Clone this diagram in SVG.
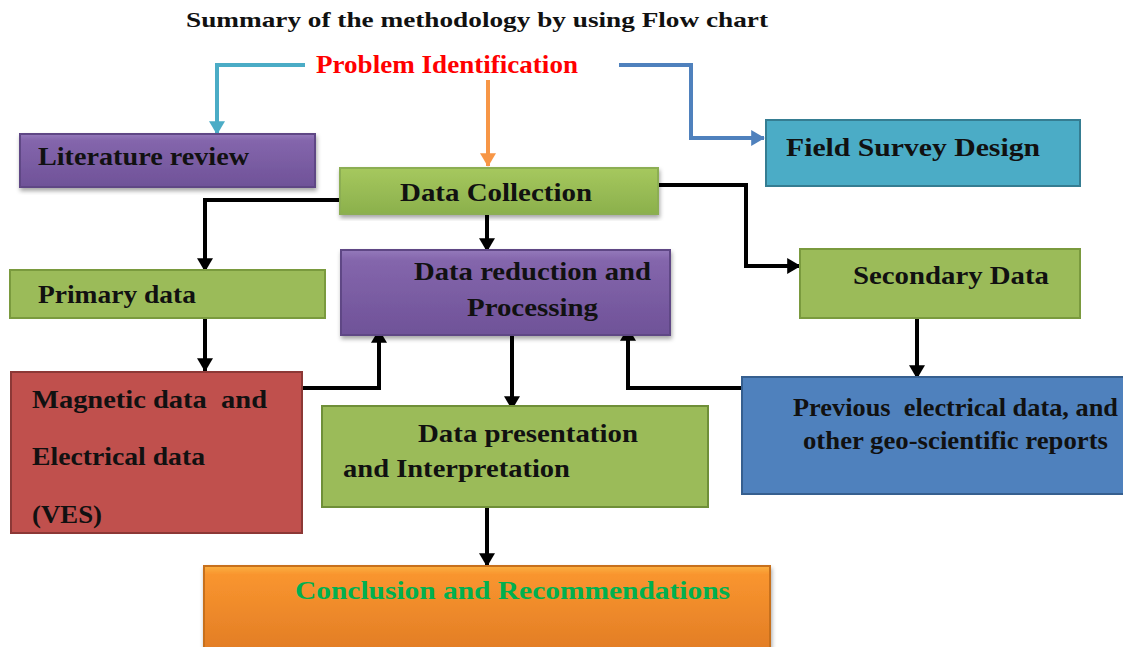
<svg xmlns="http://www.w3.org/2000/svg" width="1123" height="647" viewBox="0 0 1123 647">
  <defs>
    <style>
      text { font-family: "Liberation Serif", "Times New Roman", serif; font-weight: bold; fill: #111; white-space: pre; }
      .lbl { font-size: 25px; }
      .title { font-size: 21px; }
      .conn { fill: none; stroke-width: 4; stroke-linejoin: miter; }
      .blk { stroke: #000; }
      .box { stroke-width: 2; }
    </style>
    <linearGradient id="gPurple" x1="0" y1="0" x2="0" y2="1">
      <stop offset="0" stop-color="#9479bb"/>
      <stop offset="0.12" stop-color="#8466ac"/>
      <stop offset="1" stop-color="#6f5298"/>
    </linearGradient>
    <linearGradient id="gGreen" x1="0" y1="0" x2="0" y2="1">
      <stop offset="0" stop-color="#a6c85e"/>
      <stop offset="1" stop-color="#8bb04c"/>
    </linearGradient>
    <linearGradient id="gOrange" x1="0" y1="0" x2="0" y2="1">
      <stop offset="0" stop-color="#fbb040"/>
      <stop offset="0.1" stop-color="#f9952f"/>
      <stop offset="1" stop-color="#e27d25"/>
    </linearGradient>
    <filter id="shadow" x="-5%" y="-10%" width="110%" height="125%">
      <feDropShadow dx="1" dy="3" stdDeviation="2" flood-color="#000" flood-opacity="0.35"/>
    </filter>
    <marker id="aBlack" markerWidth="4" markerHeight="4" refX="3.2" refY="2" orient="auto" markerUnits="strokeWidth">
      <path d="M0,0 L3.4,2 L0,4 Z" fill="#000"/>
    </marker>
    <marker id="aCyan" markerWidth="4" markerHeight="4" refX="3.2" refY="2" orient="auto" markerUnits="strokeWidth">
      <path d="M0,0 L3.4,2 L0,4 Z" fill="#4bacc6"/>
    </marker>
    <marker id="aBlue" markerWidth="4" markerHeight="4" refX="3.2" refY="2" orient="auto" markerUnits="strokeWidth">
      <path d="M0,0 L3.4,2 L0,4 Z" fill="#4f81bd"/>
    </marker>
    <marker id="aOrange" markerWidth="4" markerHeight="4" refX="3.2" refY="2" orient="auto" markerUnits="strokeWidth">
      <path d="M0,0 L3.4,2 L0,4 Z" fill="#f79646"/>
    </marker>
  </defs>

  <rect width="1123" height="647" fill="#ffffff"/>

  <text class="title" x="186" y="27" textLength="582" lengthAdjust="spacingAndGlyphs">Summary of the methodology by using Flow chart</text>

  <g id="problem-identification">
    <text class="lbl" x="316" y="73" style="fill:#ff0000" textLength="262" lengthAdjust="spacingAndGlyphs">Problem Identification</text>
  </g>

  <!-- connectors -->
  <g id="connectors">
    <path class="conn" stroke="#4bacc6" stroke-width="3.5" d="M305,65 H217 V134" marker-end="url(#aCyan)"/>
    <path class="conn" stroke="#f79646" stroke-width="3.5" d="M488,80 V166" marker-end="url(#aOrange)"/>
    <path class="conn" stroke="#4f81bd" stroke-width="3.5" d="M619,65 H691 V138 H764" marker-end="url(#aBlue)"/>
    <path class="conn blk" d="M348,200 H205 V271" marker-end="url(#aBlack)"/>
    <path class="conn blk" d="M487,214 V251" marker-end="url(#aBlack)"/>
    <path class="conn blk" d="M658,185 H746 V266 H800" marker-end="url(#aBlack)"/>
    <path class="conn blk" d="M205,318 V371" marker-end="url(#aBlack)"/>
    <path class="conn blk" d="M302,388 H379 V330" marker-end="url(#aBlack)"/>
    <path class="conn blk" d="M512,336 V409" marker-end="url(#aBlack)"/>
    <path class="conn blk" d="M742,388 H628 V328" marker-end="url(#aBlack)"/>
    <path class="conn blk" d="M917,318 V378" marker-end="url(#aBlack)"/>
    <path class="conn blk" d="M487,507 V566" marker-end="url(#aBlack)"/>
  </g>

  <g id="literature-review">
    <rect class="box" x="20" y="134" width="295" height="53" fill="url(#gPurple)" stroke="#5f4785" filter="url(#shadow)"/>
    <text class="lbl" x="38" y="165" textLength="211" lengthAdjust="spacingAndGlyphs">Literature review</text>
  </g>

  <g id="field-survey-design">
    <rect class="box" x="766" y="120" width="314" height="66" fill="#4bacc6" stroke="#357d92"/>
    <text class="lbl" x="786" y="156" textLength="254" lengthAdjust="spacingAndGlyphs">Field Survey Design</text>
  </g>

  <g id="data-collection">
    <rect class="box" x="340" y="168" width="318" height="46" fill="url(#gGreen)" stroke="#8cae52" filter="url(#shadow)"/>
    <text class="lbl" x="400" y="201" textLength="192" lengthAdjust="spacingAndGlyphs">Data Collection</text>
  </g>

  <g id="primary-data">
    <rect class="box" x="10" y="270" width="315" height="48" fill="#9bbb59" stroke="#7a9a3e"/>
    <text class="lbl" x="38" y="303" textLength="158" lengthAdjust="spacingAndGlyphs">Primary data</text>
  </g>

  <g id="data-reduction">
    <rect class="box" x="341" y="250" width="329" height="85" fill="url(#gPurple)" stroke="#5f4785" filter="url(#shadow)"/>
    <text class="lbl" x="414" y="280" textLength="237" lengthAdjust="spacingAndGlyphs">Data reduction and</text>
    <text class="lbl" x="467" y="316" textLength="131" lengthAdjust="spacingAndGlyphs">Processing</text>
  </g>

  <g id="secondary-data">
    <rect class="box" x="800" y="249" width="280" height="69" fill="#9bbb59" stroke="#7a9a3e"/>
    <text class="lbl" x="853" y="284" textLength="196" lengthAdjust="spacingAndGlyphs">Secondary Data</text>
  </g>

  <g id="magnetic-electrical">
    <rect class="box" x="11" y="372" width="291" height="161" fill="#c0504d" stroke="#8c3836"/>
    <text class="lbl" x="32" y="408" textLength="235" lengthAdjust="spacingAndGlyphs">Magnetic data  and</text>
    <text class="lbl" x="32" y="465" textLength="173" lengthAdjust="spacingAndGlyphs">Electrical data</text>
    <text class="lbl" x="32" y="523" textLength="70" lengthAdjust="spacingAndGlyphs">(VES)</text>
  </g>

  <g id="data-presentation">
    <rect class="box" x="322" y="406" width="386" height="101" fill="#9bbb59" stroke="#6f8f38"/>
    <text class="lbl" x="418" y="442" textLength="220" lengthAdjust="spacingAndGlyphs">Data presentation</text>
    <text class="lbl" x="343" y="477" textLength="227" lengthAdjust="spacingAndGlyphs">and Interpretation</text>
  </g>

  <g id="previous-data">
    <rect class="box" x="742" y="377" width="385" height="117" fill="#4f81bd" stroke="#365f8f"/>
    <text class="lbl" x="793" y="416" textLength="325" lengthAdjust="spacingAndGlyphs">Previous  electrical data, and</text>
    <text class="lbl" x="803" y="449" textLength="305" lengthAdjust="spacingAndGlyphs">other geo-scientific reports</text>
  </g>

  <g id="conclusion">
    <rect class="box" x="204" y="566" width="566" height="85" fill="url(#gOrange)" stroke="#c7701f" filter="url(#shadow)"/>
    <text class="lbl" x="295" y="599" style="fill:#00b050" textLength="435" lengthAdjust="spacingAndGlyphs">Conclusion and Recommendations</text>
  </g>
</svg>
